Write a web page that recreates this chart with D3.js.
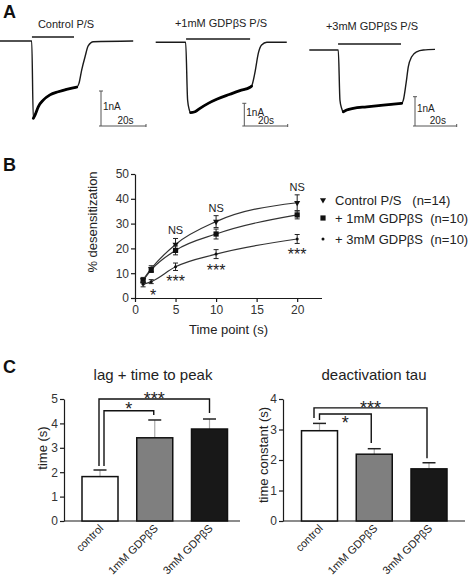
<!DOCTYPE html>
<html><head><meta charset="utf-8">
<script src="https://cdn.jsdelivr.net/npm/d3@7"></script>
<style>
body{margin:0;background:#fff;}
svg{display:block;font-family:"Liberation Sans",Arial,Helvetica,sans-serif;}
</style></head><body>
<svg id="c" width="474" height="579"></svg>
<script>
// ---------------- DATA ----------------
// Panel A: current traces (time in s, current in nA)
const traceTitles = ["Control P/S", "+1mM GDPβS P/S", "+3mM GDPβS P/S"];
const trace1Time    = [0, 14.1, 14.8, 15.6, 17.0, 19.2, 22.2, 25.9, 29.6, 34.1, 35.1, 36.3, 37.8, 39.2, 41.5, 59.2];
const trace1Current = [0, 0, -2.21, -2.11, -1.88, -1.69, -1.54, -1.45, -1.38, -1.32, -1.21, -0.83, -0.45, -0.14, -0.02, 0];
const trace2Time    = [0, 13.8, 14.7, 15.5, 16.1, 18.1, 20.4, 24.2, 28.1, 34.2, 38.8, 43.5, 44.2, 45.7, 47.3, 48.8, 51.2, 60.4];
const trace2Current = [0, 0, -2.54, -2.98, -3.10, -3.06, -2.91, -2.69, -2.51, -2.29, -2.13, -1.98, -1.93, -1.35, -0.48, -0.12, 0, 0];
const trace3Time    = [0, 13.9, 14.7, 15.5, 16.3, 17.9, 21.1, 27.5, 35.5, 44.3, 45.1, 46.4, 47.5, 49.1, 51.5, 54.7, 60.3];
const trace3Current = [0, 0, -1.71, -1.99, -2.11, -2.05, -1.99, -1.94, -1.88, -1.82, -1.71, -1.14, -0.57, -0.23, -0.06, 0, 0.02];
const applicationStart = [14.2, 14.0, 13.8];
const applicationEnd   = [32.9, 43.5, 44.0];
const noisyStart = [14.8, 16.1, 16.3];
const noisyEnd   = [34.1, 44.2, 44.3];
const scaleBarCurrent = 1;   // nA
const scaleBarTime = 20;     // s

// Panel B: % desensitization
const timePoints = [1, 2, 5, 10, 20];
const controlMean = [7.3, 11.8, 21.6, 30.8, 38.4];
const controlSem  = [1.0, 1.2, 2.4, 2.4, 3.2];
const gdp1Mean = [7.0, 11.3, 19.2, 25.8, 33.5];
const gdp1Sem  = [1.0, 1.0, 1.8, 2.0, 1.6];
const gdp3Mean = [5.5, 6.6, 12.6, 17.7, 23.8];
const gdp3Sem  = [1.0, 0.8, 1.5, 1.8, 1.8];
const seriesNames = ["Control P/S", "+ 1mM GDPβS", "+ 3mM GDPβS"];
const seriesN = ["(n=14)", "(n=10)", "(n=10)"];
const nsTimes = [5, 10, 20];
const starTimes = [2, 5, 10, 20];
const starLabels = ["*", "***", "***", "***"];
const bYTicks = [0, 10, 20, 30, 40, 50];
const bXTicks = [0, 5, 10, 15, 20];

// Panel C
const groups = ["control", "1mM GDPβS", "3mM GDPβS"];
const lagMean = [1.82, 3.41, 3.77];
const lagSem  = [0.27, 0.73, 0.41];
const tauMean = [2.96, 2.19, 1.71];
const tauSem  = [0.24, 0.18, 0.20];
const lagTicks = [0, 1, 2, 3, 4, 5];
const tauTicks = [0, 1, 2, 3, 4];
const lagSig = [{a:0, b:1, label:"*", h:4.52, la:2.25, lb:4.34}, {a:0, b:2, label:"***", h:5.0, la:2.25, lb:4.43}];
const tauSig = [{a:0, b:1, label:"*", h:3.51, la:3.31, lb:2.56}, {a:0, b:2, label:"***", h:3.71, la:3.38, lb:2.06}];

// ---------------- DRAW ----------------
const svg = d3.select("#c");
const ink = "#1a1a1a";
const txt = "#222";
const intFmt = d3.format("d");

function panelLetter(t, x, y){
  svg.append("text").attr("x", x).attr("y", y).attr("font-size", 18).attr("font-weight", "bold").attr("fill", "#111").text(t);
}
panelLetter("A", 3, 18);
panelLetter("B", 3, 171);
panelLetter("C", 3, 373);

// ---- Panel A ----
const traces = [
  {t: trace1Time, i: trace1Current},
  {t: trace2Time, i: trace2Current},
  {t: trace3Time, i: trace3Current}
];
const traceLayout = [
  {x0: 0,     sx: 2.25,  y0: 41,   sy: 35,   barY: 37, titleX: 66,  titleY: 28, sbx: 101,   sby: 126, lblDx: 1},
  {x0: 155.7, sx: 2.17,  y0: 42.3, sy: 22.7, barY: 39, titleX: 221, titleY: 27, sbx: 244.3, sby: 126, lblDx: -1},
  {x0: 309.3, sx: 2.085, y0: 50,   sy: 29.3, barY: 44, titleX: 372, titleY: 30, sbx: 415,   sby: 126, lblDx: 1}
];
traces.forEach((tr, k) => {
  const L = traceLayout[k];
  const x = d3.scaleLinear().domain([0, 1]).range([L.x0, L.x0 + L.sx]);
  const y = d3.scaleLinear().domain([0, -1]).range([L.y0, L.y0 + L.sy]);
  const pts = tr.t.map((t, j) => [t, tr.i[j]]);
  const line = d3.line().x(d => x(d[0])).y(d => y(d[1])).curve(d3.curveMonotoneX);
  const g = svg.append("g");
  g.append("path").attr("d", line(pts)).attr("fill", "none").attr("stroke", ink).attr("stroke-width", 1.4);
  const noisy = pts.filter(d => d[0] >= noisyStart[k] && d[0] <= noisyEnd[k]);
  g.append("path").attr("d", line(noisy)).attr("fill", "none").attr("stroke", "#000").attr("stroke-width", 2.8).attr("stroke-linecap", "round");
  // application bar
  g.append("line").attr("x1", x(applicationStart[k])).attr("x2", x(applicationEnd[k]))
    .attr("y1", L.barY).attr("y2", L.barY).attr("stroke", ink).attr("stroke-width", 1.3);
  g.append("text").attr("x", L.titleX).attr("y", L.titleY).attr("text-anchor", "middle")
    .attr("font-size", 11).attr("fill", txt).text(traceTitles[k]);
  // scale bar
  const vLen = y(-scaleBarCurrent) - y(0);
  const hLen = x(scaleBarTime) - x(0);
  g.append("line").attr("x1", L.sbx).attr("x2", L.sbx).attr("y1", L.sby).attr("y2", L.sby - vLen).attr("stroke", "#555").attr("stroke-width", 1);
  g.append("line").attr("x1", L.sbx - 2).attr("x2", L.sbx + 2).attr("y1", L.sby - vLen).attr("y2", L.sby - vLen).attr("stroke", "#555").attr("stroke-width", 1);
  g.append("line").attr("x1", L.sbx - 2).attr("x2", L.sbx + hLen).attr("y1", L.sby).attr("y2", L.sby).attr("stroke", "#555").attr("stroke-width", 1);
  g.append("line").attr("x1", L.sbx + hLen).attr("x2", L.sbx + hLen).attr("y1", L.sby - 2).attr("y2", L.sby + 1).attr("stroke", "#555").attr("stroke-width", 1);
  g.append("text").attr("x", L.sbx + 2).attr("y", L.sby - vLen / 2 + 1).attr("font-size", 10).attr("fill", txt).text(scaleBarCurrent + "nA");
  g.append("text").attr("x", L.sbx + hLen / 2 + 1 + L.lblDx).attr("y", L.sby - 2).attr("text-anchor", "middle")
    .attr("font-size", 10).attr("fill", txt).text(scaleBarTime + "s");
});

// ---- Panel B ----
const bx = d3.scaleLinear().domain([0, 23]).range([135, 321.5]);
const by = d3.scaleLinear().domain([0, 50]).range([298, 174]);
const gB = svg.append("g");
const axY = gB.append("g").attr("transform", "translate(135,0)")
  .call(d3.axisLeft(by).tickValues(bYTicks).tickFormat(intFmt).tickSize(4).tickSizeOuter(0).tickPadding(2));
const axX = gB.append("g").attr("transform", "translate(0,298)")
  .call(d3.axisBottom(bx).tickValues(bXTicks).tickFormat(intFmt).tickSize(4).tickSizeOuter(0).tickPadding(3));
[axY, axX].forEach(a => {
  a.select(".domain").attr("stroke", ink).attr("stroke-width", 1.2);
  a.selectAll(".tick line").attr("stroke", ink).attr("stroke-width", 1.2);
  a.selectAll(".tick text").attr("font-size", 12).attr("fill", "#333").attr("font-family", "Liberation Sans, Arial, sans-serif");
});
gB.append("text").attr("transform", "translate(97,222) rotate(-90)").attr("text-anchor", "middle")
  .attr("font-size", 13).attr("fill", txt).text("% desensitization");
gB.append("text").attr("x", 228.5).attr("y", 334).attr("text-anchor", "middle")
  .attr("font-size", 13).attr("fill", txt).text("Time point (s)");

const series = [
  {m: controlMean, s: controlSem, sym: "tri"},
  {m: gdp1Mean, s: gdp1Sem, sym: "sq"},
  {m: gdp3Mean, s: gdp3Sem, sym: "dot"}
];
const fit = d3.line().x(d => bx(d[0])).y(d => by(d[1])).curve(d3.curveMonotoneX);
function drawSym(g, type, cx, cy){
  if (type === "tri") g.append("path").attr("d", d3.symbol(d3.symbolTriangle, 16)()).attr("transform", `translate(${cx},${cy}) rotate(180)`).attr("fill", "#111");
  else if (type === "sq") g.append("rect").attr("x", cx - 2.6).attr("y", cy - 2.6).attr("width", 5.2).attr("height", 5.2).attr("fill", "#111");
  else g.append("circle").attr("cx", cx).attr("cy", cy).attr("r", 1.5).attr("fill", "#111");
}
series.forEach(S => {
  const pts = timePoints.map((t, j) => [t, S.m[j]]);
  gB.append("path").attr("d", fit(pts)).attr("fill", "none").attr("stroke", "#333").attr("stroke-width", 1.2);
  timePoints.forEach((t, j) => {
    const cx = bx(t), yt = by(S.m[j] + S.s[j]), yb = by(S.m[j] - S.s[j]);
    gB.append("line").attr("x1", cx).attr("x2", cx).attr("y1", yt).attr("y2", yb).attr("stroke", "#222").attr("stroke-width", 1);
    [yt, yb].forEach(yy => gB.append("line").attr("x1", cx - 2.5).attr("x2", cx + 2.5).attr("y1", yy).attr("y2", yy).attr("stroke", "#222").attr("stroke-width", 1));
    drawSym(gB, S.sym, cx, by(S.m[j]));
  });
});
nsTimes.forEach(t => {
  const j = timePoints.indexOf(t);
  gB.append("text").attr("x", bx(t)).attr("y", by(controlMean[j] + controlSem[j]) - 4).attr("text-anchor", "middle")
    .attr("font-size", 11).attr("fill", txt).text("NS");
});
starTimes.forEach((t, k) => {
  const j = timePoints.indexOf(t);
  const yb = by(gdp3Mean[j] - gdp3Sem[j]);
  gB.append("text").attr("x", bx(t) + (starLabels[k] === "*" ? 2 : 0)).attr("y", yb + 17).attr("text-anchor", "middle")
    .attr("font-size", 16).attr("fill", txt).text(starLabels[k]);
});
// legend
const legY = [200, 218, 239];
series.forEach((S, k) => {
  drawSym(gB, S.sym, 323, legY[k]);
  gB.append("text").attr("x", 335).attr("y", legY[k] + 5).attr("font-size", 13).attr("fill", txt)
    .attr("xml:space", "preserve").style("white-space", "pre")
    .text(seriesNames[k] + (k === 0 ? "   " : "  ") + seriesN[k]);
});

// ---- Panel C ----
function barChart(cfg){
  const g = svg.append("g");
  const y = d3.scaleLinear().domain([0, cfg.max]).range([521, 399]);
  const x = d3.scalePoint().domain(groups).range(cfg.centers);
  const bw = 36;
  const ay = g.append("g").attr("transform", `translate(${cfg.axisX},0)`)
    .call(d3.axisLeft(y).tickValues(cfg.ticks).tickFormat(intFmt).tickSize(4).tickSizeOuter(0).tickPadding(2));
  ay.select(".domain").attr("stroke", ink).attr("stroke-width", 1.2);
  ay.selectAll(".tick line").attr("stroke", ink).attr("stroke-width", 1.2);
  ay.selectAll(".tick text").attr("font-size", 12).attr("fill", "#333").attr("font-family", "Liberation Sans, Arial, sans-serif");
  g.append("line").attr("x1", cfg.axisX).attr("x2", cfg.axisEnd).attr("y1", 521).attr("y2", 521).attr("stroke", ink).attr("stroke-width", 1.2);
  g.append("text").attr("x", cfg.titleX).attr("y", 380).attr("text-anchor", "middle").attr("font-size", 15).attr("fill", txt).text(cfg.title);
  g.append("text").attr("transform", `translate(${cfg.ylabX},${cfg.ylabY}) rotate(-90)`).attr("text-anchor", "middle")
    .attr("font-size", 13).attr("fill", txt).text(cfg.ylab);
  const fills = ["#ffffff", "#7f7f7f", "#181818"];
  groups.forEach((gr, k) => {
    const cx = x(gr);
    const top = y(cfg.mean[k]);
    const eTop = y(cfg.mean[k] + cfg.sem[k]);
    g.append("line").attr("x1", cx).attr("x2", cx).attr("y1", top).attr("y2", eTop).attr("stroke", "#aaa").attr("stroke-width", 1.2);
    g.append("line").attr("x1", cx - 6.5).attr("x2", cx + 6.5).attr("y1", eTop).attr("y2", eTop).attr("stroke", "#222").attr("stroke-width", 1.5);
    g.append("rect").attr("x", cx - bw / 2).attr("y", top).attr("width", bw).attr("height", 521 - top)
      .attr("fill", fills[k]).attr("stroke", "#111").attr("stroke-width", 1.5);
    g.append("text").attr("transform", `translate(${cx + 4},${529}) rotate(-45)`).attr("text-anchor", "end")
      .attr("font-size", 11).attr("fill", txt).text(gr);
  });
  cfg.sig.forEach((s, k) => {
    const xa = x(groups[s.a]) + cfg.legA[k], xb = x(groups[s.b]) + cfg.legB[k];
    g.append("path").attr("d", `M${xa},${y(s.la)}V${y(s.h)}H${xb}V${y(s.lb)}`)
      .attr("fill", "none").attr("stroke", "#111").attr("stroke-width", 1.4);
    g.append("text").attr("x", (xa + xb) / 2 + cfg.starDx[k]).attr("y", y(s.h) + cfg.starDy[k]).attr("text-anchor", "middle")
      .attr("font-size", 18).attr("fill", txt).text(s.label);
  });
}
barChart({max: 5, ticks: lagTicks, centers: [100, 209.5], axisX: 64, axisEnd: 240, title: "lag + time to peak", titleX: 153,
  ylab: "time (s)", ylabX: 47, ylabY: 448, mean: lagMean, sem: lagSem, sig: lagSig,
  legA: [4, -1], legB: [-1, 0], starDx: [0, 0], starDy: [4.7, 5.5]});
barChart({max: 4, ticks: tauTicks, centers: [319.5, 429], axisX: 283, axisEnd: 465, title: "deactivation tau", titleX: 374,
  ylab: "time constant (s)", ylabX: 268, ylabY: 455, mean: tauMean, sem: tauSem, sig: tauSig,
  legA: [0, -5.5], legB: [-3, -2], starDx: [0, 0], starDy: [15.4, 6.4]});
</script>
</body></html>
